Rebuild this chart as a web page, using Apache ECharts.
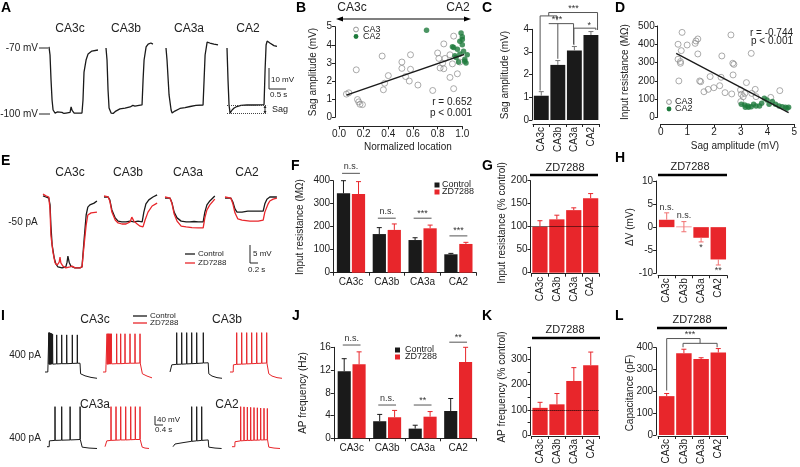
<!DOCTYPE html>
<html><head><meta charset="utf-8">
<script src="https://cdn.jsdelivr.net/npm/echarts@6/dist/echarts.min.js"></script>
<style>html,body{margin:0;padding:0;background:#fff}#c{width:800px;height:467px}</style>
</head><body><div id="c"></div>
<script>
// ---------------- DATA ----------------
const cats = ['CA3c','CA3b','CA3a','CA2'];

// A: hyperpolarizing traces [time s, mV]
const aCA3c = [[0,-69.5],[0.03,-73.2],[0.06,-84.7],[0.09,-93.8],[0.12,-98.4],[0.18,-99.8],[0.24,-99.3],[0.29,-100],[0.38,-99.5],[0.44,-100],[0.5,-99.8],[0.62,-99.5],[0.65,-97],[0.68,-98.6],[0.74,-99.8],[0.85,-99.8],[0.97,-99.8],[1.0,-93.8],[1.03,-81],[1.09,-75.5],[1.15,-72.7],[1.26,-71.4],[1.44,-70.9]];
const aCA3b = [[0,-70],[0.03,-75.5],[0.06,-89.2],[0.09,-97.5],[0.15,-99.8],[0.21,-100],[0.29,-98.9],[0.41,-97.9],[0.56,-97.5],[0.71,-97],[0.79,-96.3],[0.85,-96.6],[0.97,-96.3],[1.06,-96.1],[1.09,-84.7],[1.12,-75.5],[1.18,-69.5],[1.24,-68.2],[1.32,-67.7],[1.38,-68.2]];
const aCA3a = [[0,-70],[0.03,-75.5],[0.09,-91.5],[0.15,-98.4],[0.18,-99.8],[0.26,-98.9],[0.41,-97.7],[0.56,-97.3],[0.71,-96.8],[0.88,-96.3],[1.09,-96.1],[1.12,-84.7],[1.15,-73.2],[1.21,-67.3],[1.29,-67.7],[1.41,-68.2],[1.53,-68.6]];
const aCA2 = [[0,-70],[0.03,-84.7],[0.06,-96.1],[0.09,-99.8],[0.15,-98.4],[0.21,-97.5],[0.29,-96.8],[0.41,-96.3],[0.59,-96.1],[0.82,-96.1],[1.09,-95.9],[1.12,-80.1],[1.15,-68.6],[1.18,-66.8],[1.26,-67.7],[1.38,-68.9],[1.47,-69.3]];
const aSagLevels = [-96.0, -100.1];

// B: sag amplitude vs normalized location
const bCA3 = [[0.06,1.28],[0.08,1.35],[0.14,2.62],[0.15,0.98],[0.16,0.85],[0.17,0.72],[0.19,0.70],[0.35,3.38],[0.36,1.52],[0.37,1.88],[0.40,2.30],[0.51,3.05],[0.51,2.70],[0.54,2.25],[0.57,2.00],[0.58,3.45],[0.58,2.65],[0.64,1.78],[0.76,1.48],[0.80,3.55],[0.81,3.25],[0.82,2.72],[0.84,2.98],[0.85,2.68],[0.85,4.05],[0.86,3.25],[0.90,2.20],[0.92,2.95],[0.93,1.58],[0.93,4.48],[0.96,2.40],[0.98,3.05],[0.90,3.45]];
const bCA2 = [[0.71,4.80],[0.93,3.85],[0.94,3.40],[0.95,3.30],[0.96,3.75],[0.97,3.05],[0.98,4.20],[0.99,4.65],[1.00,4.45],[1.00,4.00],[1.01,3.65],[1.02,3.20],[1.03,3.00],[1.04,3.45],[0.98,3.50],[0.92,3.90],[1.00,4.30],[1.02,3.10]];
const bFit = [[0.06,1.23],[1.04,3.53]];

// C: sag amplitude by region
const cMean = [1.07,2.43,3.06,3.75];
const cSem  = [0.18,0.19,0.18,0.15];

// D: input resistance vs sag
const dCA3 = [[0.65,400],[0.80,465],[0.77,365],[0.65,318],[0.74,305],[0.74,296],[0.99,396],[1.32,418],[1.39,429],[1.29,405],[1.39,347],[0.68,199],[1.46,199],[1.50,195],[1.62,140],[1.78,153],[1.99,162],[1.85,223],[2.21,173],[2.26,219],[2.29,336],[2.41,135],[2.63,451],[2.70,296],[2.74,290],[2.71,232],[2.66,128],[2.99,150],[3.02,126],[3.09,113],[3.21,190],[3.39,350],[3.41,131],[3.54,153],[3.57,113],[4.12,109],[4.46,146],[3.15,131],[3.00,86]];
const dCA2 = [[3.02,71],[3.15,68],[3.27,62],[3.39,58],[3.48,71],[3.57,62],[3.70,62],[3.78,77],[3.88,104],[3.98,95],[4.06,71],[4.18,86],[4.30,71],[4.43,62],[4.55,58],[4.67,55],[4.73,49],[4.79,55],[3.17,55],[3.29,55]];
const dFit = [[0.58,350],[4.79,26]];

// E: -50 pA traces [time s, mV relative]
const eCA3cCtrl = [[0,0.3],[0.07,0],[0.14,-0.3],[0.17,-2.2],[0.19,-7.8],[0.22,-13.3],[0.27,-16.9],[0.31,-18.6],[0.36,-19.4],[0.46,-19.7],[0.55,-19.4],[0.58,-18.1],[0.60,-16.4],[0.63,-18.1],[0.67,-19.2],[0.77,-19.7],[0.89,-19.7],[0.94,-19.4],[0.99,-11.9],[1.04,-5],[1.08,-2.8],[1.13,-2.2],[1.23,-1.7],[1.30,-1.1]];
const eCA3cZD = [[0,0.8],[0.07,0.3],[0.14,0],[0.17,-3.6],[0.19,-10.6],[0.24,-15.3],[0.29,-18.3],[0.34,-18.9],[0.39,-18.1],[0.41,-16.7],[0.43,-18.3],[0.48,-19.2],[0.55,-19.7],[0.65,-19.4],[0.70,-19.2],[0.77,-19.7],[0.89,-19.7],[0.94,-19.4],[0.99,-13.3],[1.04,-7.8],[1.08,-5],[1.16,-4.4],[1.30,-4.2]];
const eCA3bCtrl = [[0,0],[0.10,0],[0.14,-0.8],[0.19,-3.6],[0.27,-5.8],[0.34,-6.7],[0.43,-6.9],[0.53,-6.9],[0.63,-6.7],[0.72,-6.9],[0.82,-6.7],[0.92,-6.9],[0.96,-4.2],[1.01,-1.9],[1.08,-0.8],[1.18,0],[1.28,0.6]];
const eCA3bZD = [[0,0.3],[0.10,0],[0.14,-1.1],[0.19,-4.2],[0.27,-6.4],[0.34,-7.2],[0.43,-7.5],[0.53,-7.5],[0.63,-6.9],[0.67,-5.6],[0.72,-6.7],[0.80,-7.5],[0.87,-8.1],[0.94,-8.3],[0.99,-6.4],[1.06,-4.2],[1.16,-2.5],[1.28,-1.7]];
const eCA3aCtrl = [[0,-0.3],[0.12,-0.3],[0.17,-1.7],[0.22,-4.2],[0.29,-5.8],[0.39,-6.7],[0.51,-6.9],[0.60,-6.9],[0.70,-6.8],[0.80,-6.9],[0.92,-6.9],[0.96,-4.2],[1.01,-2.2],[1.08,-1.1],[1.20,0.3]];
const eCA3aZD = [[0,0],[0.12,-0.3],[0.17,-1.9],[0.22,-4.7],[0.29,-6.7],[0.39,-8.1],[0.51,-8.3],[0.65,-8.5],[0.80,-8.6],[0.92,-8.6],[0.96,-5.8],[1.01,-3.6],[1.08,-2.2],[1.20,-0.6]];
const eCA2Ctrl = [[0,-0.3],[0.14,-0.3],[0.19,-1.4],[0.24,-3.3],[0.29,-4.2],[0.41,-4.2],[0.55,-3.9],[0.70,-3.9],[0.82,-3.9],[0.92,-3.9],[0.96,-1.9],[1.01,-0.6],[1.08,0],[1.25,0]];
const eCA2ZD = [[0,0],[0.14,-0.3],[0.19,-1.9],[0.24,-4.4],[0.31,-6.1],[0.41,-6.4],[0.60,-6.7],[0.80,-6.7],[0.92,-6.4],[0.96,-4.2],[1.04,-1.9],[1.08,-1.1],[1.16,-0.6],[1.25,-0.3]];

// F: input resistance (MOhm)
const fCtrl = [345,168,142,80];
const fCtrlSem = [55,28,10,4];
const fZD = [342,186,193,125];
const fZDSem = [54,26,14,7];

// G: input resistance (% control)
const gMean = [100,116,136,162];
const gSem = [13,9,5,10];

// H: delta V (mV)
const hMean = [1.6,0.1,-2.3,-7.0];
const hSem = [1.5,1.1,0.9,1.2];

// I: 400 pA firing traces [time s, mV]
const iCA3cCtrl = [[0,-70],[0.14,-70],[0.15,-38],
 [0.185,-36],[0.19,105],[0.2,-36],[0.215,-36],[0.22,105],[0.23,-36],[0.245,-36],[0.25,104],[0.26,-36],
 [0.275,-36],[0.28,103],[0.29,-36],[0.305,-35],[0.31,102],[0.32,-35],[0.34,-35],[0.345,100],[0.355,-35],
 [0.375,-35],[0.38,98],[0.39,-35],[0.58,-34],[0.585,95],[0.595,-34],[0.83,-33],[0.835,95],[0.845,-33],
 [1.08,-33],[1.085,95],[1.095,-33],[1.36,-32],[1.365,95],[1.375,-32],[1.61,-31],[1.615,95],[1.625,-31],
 [1.75,-31],[1.78,-78],[2.0,-87],[2.3,-94],[2.6,-98]];
const iCA3cZD = [[0,-70],[0.14,-70],[0.15,-38],
 [0.195,-36],[0.2,100],[0.21,-36],[0.235,-36],[0.24,100],[0.25,-36],[0.275,-35],[0.28,100],[0.29,-35],
 [0.315,-35],[0.32,100],[0.33,-35],[0.365,-35],[0.37,100],[0.38,-35],[0.415,-34],[0.42,100],[0.43,-34],
 [0.678,-33],[0.683,100],[0.693,-33],[0.878,-33],[0.883,100],[0.893,-33],[1.095,-32],[1.1,100],[1.11,-32],
 [1.345,-31],[1.35,100],[1.36,-31],[1.595,-31],[1.6,100],[1.61,-31],[1.845,-30],[1.85,100],[1.86,-30],
 [1.94,-30],[1.97,-78],[2.2,-88],[2.45,-96]];
const iCA3bCtrl = [[0,-70],[0.08,-70],[0.09,-38],
 [0.33,-36],[0.335,105],[0.345,-36],[0.58,-35],[0.585,105],[0.595,-35],[0.83,-34],[0.835,105],[0.845,-34],
 [1.08,-33],[1.085,105],[1.095,-33],[1.33,-32],[1.335,105],[1.345,-32],[1.66,-30],[1.665,105],[1.675,-30],
 [1.91,-29],[1.94,-78],[2.1,-88],[2.35,-95],[2.6,-98]];
const iCA3bZD = [[0,-70],[0.16,-70],[0.17,-38],
 [0.33,-36],[0.335,105],[0.345,-36],[0.58,-35],[0.585,105],[0.595,-35],[0.83,-34],[0.835,105],[0.845,-34],
 [1.08,-33],[1.085,105],[1.095,-33],[1.33,-32],[1.335,105],[1.345,-32],[1.58,-31],[1.585,105],[1.595,-31],
 [1.83,-30],[1.835,105],[1.845,-30],[1.91,-30],[1.94,-78],[2.1,-88],[2.35,-95],[2.6,-98]];
const iCA3aCtrl = [[0,-70],[0.11,-70],[0.12,-44],
 [0.395,-42],[0.4,108],[0.41,-42],[0.73,-41],[0.735,108],[0.745,-41],[1.15,-40],[1.155,108],[1.165,-40],
 [1.65,-38],[1.655,108],[1.665,-38],[1.73,-38],[1.76,-72],[2.1,-76],[2.5,-78]];
const iCA3aZD = [[0,-70],[0.08,-70],[0.09,-44],
 [0.295,-42],[0.3,108],[0.31,-42],[0.545,-41],[0.55,108],[0.56,-41],[0.78,-40],[0.785,108],[0.795,-40],
 [1.03,-40],[1.035,108],[1.045,-40],[1.28,-39],[1.285,108],[1.295,-39],[1.51,-38],[1.515,108],[1.525,-38],
 [1.745,-38],[1.75,108],[1.76,-38],[1.83,-38],[1.86,-72],[2.0,-76],[2.2,-78]];
const iCA2Ctrl = [[0,-70],[0.09,-70],[0.1,-58],[0.5,-52],
 [0.93,-46],[0.935,108],[0.945,-46],[1.18,-44],[1.185,108],[1.195,-44],[1.43,-42],[1.435,108],[1.445,-42],
 [1.76,-40],[1.79,-72],[2.1,-76],[2.43,-78]];
const iCA2ZD = [[0,-70],[0.14,-70],[0.15,-48],
 [0.428,-44],[0.433,108],[0.443,-44],[0.595,-43],[0.6,107],[0.61,-43],[0.762,-42],[0.767,106],[0.777,-42],
 [0.928,-42],[0.933,105],[0.943,-42],[1.095,-41],[1.1,104],[1.11,-41],[1.262,-41],[1.267,103],[1.277,-41],
 [1.428,-40],[1.433,102],[1.443,-40],[1.595,-40],[1.6,101],[1.61,-40],[1.762,-39],[1.767,100],[1.777,-39],
 [1.81,-39],[1.84,-72],[2.1,-76],[2.4,-78]];

// J: AP frequency (Hz)
const jCtrl = [11.8,3.0,1.7,4.8];
const jCtrlSem = [2.2,1.2,0.6,2.2];
const jZD = [13.0,3.7,3.8,13.4];
const jZDSem = [2.2,1.2,0.9,2.6];

// K: AP frequency (% control)
const kMean = [108,122,215,278];
const kSem = [22,43,53,52];

// L: capacitance (pF)
const lMean = [178,375,348,378];
const lSem = [12,18,6,18];

// ---------------- CHART ----------------
const FONT = 'Liberation Sans, Arial, sans-serif';
const BLK = '#1a1a1a', RED = '#e8262b', GRN = '#1e7a3c', GRY = '#8a8a8a', TXT = '#222';
const grids = [], xAxes = [], yAxes = [], series = [], gfx = [];

function addGrid(left, top, width, height){ grids.push({left, top, width, height}); return grids.length - 1; }
function hidden(gi, xmin, xmax, ymin, ymax){
  xAxes.push({gridIndex: gi, type: 'value', min: xmin, max: xmax, show: false});
  yAxes.push({gridIndex: gi, type: 'value', min: ymin, max: ymax, show: false});
}
function vAxis(gi, min, max, interval, extra){
  return Object.assign({gridIndex: gi, type: 'value', min, max, interval,
    splitLine: {show: false},
    axisLine: {show: true, onZero: false, lineStyle: {color: TXT, width: 1}},
    axisTick: {show: true, length: 3, lineStyle: {color: TXT}},
    axisLabel: {fontSize: 10, color: TXT, margin: 3, fontFamily: FONT}}, extra || {});
}
function cAxis(gi, rotate, extra){
  return Object.assign({gridIndex: gi, type: 'category', data: cats,
    axisLine: {show: true, onZero: false, lineStyle: {color: TXT, width: 1}},
    axisTick: {show: true, length: 3, alignWithLabel: false, lineStyle: {color: TXT}},
    axisLabel: {fontSize: 10, color: TXT, rotate: rotate, margin: 3, fontFamily: FONT}}, extra || {});
}
function trace(gi, data, color, w){
  series.push({type: 'line', xAxisIndex: gi, yAxisIndex: gi, data, showSymbol: false, symbol: 'none',
    lineStyle: {color, width: w || 1.2}, clip: false, animation: false, z: 3});
}
function errBars(gi, means, sems, color, off, both){
  series.push({type: 'custom', xAxisIndex: gi, yAxisIndex: gi, silent: true, z: 5,
    data: means.map((m, i) => [i, m, sems[i]]),
    renderItem(params, api){
      const i = api.value(0), m = api.value(1), s = api.value(2);
      const w = api.size([1, 0])[0];
      const dirs = (both && both[i]) ? [1, -1] : [m < 0 ? -1 : 1];
      const p1 = api.coord([i, m]);
      const x = p1[0] + (off || 0) * w;
      const ch = [];
      dirs.forEach(d => {
        const p2 = api.coord([i, m + d * s]);
        ch.push({type: 'line', shape: {x1: x, y1: p1[1], x2: x, y2: p2[1]}, style: {stroke: color, lineWidth: 1}});
        ch.push({type: 'line', shape: {x1: x - 2.5, y1: p2[1], x2: x + 2.5, y2: p2[1]}, style: {stroke: color, lineWidth: 1}});
      });
      return {type: 'group', children: ch};
    }});
}
function annot(gi, items){
  series.push({type: 'custom', xAxisIndex: gi, yAxisIndex: gi, silent: true, z: 6,
    data: items.map((_, i) => [i % 4, 0]),
    renderItem(params, api){
      const it = items[params.dataIndex];
      const w = api.size([1, 0])[0];
      const P = (c, v) => { const b = api.coord([0, v]); return [b[0] + c * w, b[1]]; };
      const ch = [];
      (it.lines || []).forEach(pl => ch.push({type: 'polyline', shape: {points: pl.map(p => P(p[0], p[1]))}, style: {stroke: it.color || '#555', lineWidth: 1, fill: null}}));
      if (it.text){ const p = P(it.at[0], it.at[1]);
        ch.push({type: 'text', x: p[0], y: p[1] + (it.dy || 0), style: {text: it.text, fill: '#333', font: '9px ' + FONT, textAlign: 'center', textVerticalAlign: 'middle', align: 'center', verticalAlign: 'middle'}}); }
      return {type: 'group', children: ch};
    }});
}
function bars(gi, vals, color, extra){
  series.push(Object.assign({type: 'bar', xAxisIndex: gi, yAxisIndex: gi, data: vals, itemStyle: {color}, barCategoryGap: '10%', animation: false, z: 2}, extra || {}));
}
// graphic helpers
function T(x, y, text, size, align, extra){
  gfx.push(Object.assign({type: 'text', x, y, silent: true, style: {text, font: (size || 10) + 'px ' + FONT, fill: TXT,
    textAlign: align || 'center', textVerticalAlign: 'middle', align: align || 'center', verticalAlign: 'middle'}}, extra || {}));
}
function TB(x, y, text){ gfx.push({type: 'text', x, y, silent: true, style: {text, font: 'bold 14px ' + FONT, fill: '#000', textAlign: 'left', textVerticalAlign: 'middle', align: 'left', verticalAlign: 'middle'}}); }
function TR(x, y, text, size){ gfx.push({type: 'text', x, y, rotation: Math.PI / 2, silent: true, style: {text, font: (size || 10) + 'px ' + FONT, fill: TXT, textAlign: 'center', textVerticalAlign: 'middle', align: 'center', verticalAlign: 'middle'}}); }
function Ln(x1, y1, x2, y2, color, w, dash){ gfx.push({type: 'line', silent: true, shape: {x1, y1, x2, y2}, style: {stroke: color || TXT, lineWidth: w || 1, lineDash: dash || null}}); }
function Poly(points, fill){ gfx.push({type: 'polygon', silent: true, shape: {points}, style: {fill: fill || TXT}}); }

// ----- Panel A -----
const aLeft = [49, 106, 166, 227];
[aCA3c, aCA3b, aCA3a, aCA2].forEach((d, k) => {
  const gi = addGrid(aLeft[k], 26.2, 54.4, 98.2); hidden(gi, 0, 1.6, -105, -60); trace(gi, d, BLK, 1.3);
  if (k === 3){
    series.push({type: 'line', xAxisIndex: gi, yAxisIndex: gi, data: [], markLine: {silent: true, symbol: 'none', label: {show: false},
      lineStyle: {type: 'dotted', color: '#444', width: 1},
      data: aSagLevels.map(v => [{coord: [0, v]}, {coord: [1.18, v]}])}});
  }
});
['CA3c', 'CA3b', 'CA3a', 'CA2'].forEach((t, k) => T([70, 126, 189, 248][k], 29, t, 12));
T(38, 48, '-70 mV', 10, 'right'); Ln(39, 48, 48, 48);
T(38, 114, '-100 mV', 10, 'right'); Ln(39, 114, 50, 114);
Ln(269, 68, 269, 89); Ln(269, 89, 286, 89);
T(271, 80, '10 mV', 8, 'left'); T(270, 95, '0.5 s', 8, 'left');
Ln(265, 106, 265, 113); Poly([[263.5, 108], [266.5, 108], [265, 105.5]]); Poly([[263.5, 111], [266.5, 111], [265, 113.5]]);
T(272, 109.5, 'Sag', 9, 'left');
TB(1, 8, 'A');

// ----- Panel B -----
const gB = addGrid(339, 26.7, 123.3, 90.6);
xAxes.push(vAxis(gB, 0, 1, 0.2, {offset: 9, axisLabel: {fontSize: 10, color: TXT, margin: 3, fontFamily: FONT, formatter: v => v.toFixed(1)}}));
yAxes.push(vAxis(gB, 0, 5, 1, {offset: 4}));
series.push({type: 'scatter', xAxisIndex: gB, yAxisIndex: gB, data: bCA3, symbolSize: 6, clip: false,
  itemStyle: {color: 'rgba(255,255,255,0)', borderColor: GRY, borderWidth: 0.9}, z: 3});
series.push({type: 'scatter', xAxisIndex: gB, yAxisIndex: gB, data: bCA2, symbolSize: 5.5, clip: false, itemStyle: {color: GRN}, z: 4});
series.push({type: 'line', xAxisIndex: gB, yAxisIndex: gB, data: bFit, showSymbol: false, symbol: 'none', lineStyle: {color: BLK, width: 1.3}, z: 5, clip: false});
TB(296, 8, 'B');
T(352, 8, 'CA3c', 12); T(458, 8, 'CA2', 12);
Ln(340, 19, 467, 19, '#000', 1.2); Poly([[336, 19], [343, 16.5], [343, 21.5]], '#000'); Poly([[471, 19], [464, 16.5], [464, 21.5]], '#000');
TR(313, 72, 'Sag amplitude (mV)');
T(408, 147, 'Normalized location', 10);
T(472, 102, 'r = 0.652', 10, 'right'); T(472, 113, 'p < 0.001', 10, 'right');
gfx.push({type: 'circle', shape: {cx: 356, cy: 29.5, r: 2.4}, style: {fill: 'none', stroke: GRY, lineWidth: 0.9}});
gfx.push({type: 'circle', shape: {cx: 356, cy: 36.5, r: 2.4}, style: {fill: GRN}});
T(363, 29.5, 'CA3', 9, 'left'); T(363, 36.5, 'CA2', 9, 'left');

// ----- Panel C -----
const gC = addGrid(533, 29.3, 66.2, 90.7);
xAxes.push(cAxis(gC, 90, {offset: 4}));
yAxes.push(vAxis(gC, 0, 4, 1, {offset: 1}));
bars(gC, cMean, BLK);
errBars(gC, cMean, cSem, '#777', 0);
annot(gC, [
  {lines: [[[-0.07, 1.3], [-0.07, 4.59], [0.95, 4.59], [0.95, 4.4]], [[0.45, 4.59], [0.45, 4.74], [3.4, 4.74], [3.4, 3.97]]], text: '***', at: [1.95, 4.74], dy: -4},
  {lines: [[[0.45, 4.25], [1.95, 4.25], [1.95, 3.35]], [[1.0, 4.25], [1.0, 2.7]]], text: '***', at: [0.95, 4.25], dy: -4},
  {lines: [[[1.97, 3.3], [1.97, 4.05], [3.3, 4.05], [3.3, 3.97]]], text: '*', at: [2.9, 4.05], dy: -3}
]);
TB(482, 8, 'C');
TR(505, 75, 'Sag amplitude (mV)');

// ----- Panel D -----
const gD = addGrid(660.7, 26, 136.6, 91.3);
xAxes.push(vAxis(gD, 0, 5, 1, {offset: 6.7}));
yAxes.push(vAxis(gD, 0, 500, 100, {offset: 3}));
series.push({type: 'scatter', xAxisIndex: gD, yAxisIndex: gD, data: dCA3, symbolSize: 6, clip: false,
  itemStyle: {color: 'rgba(255,255,255,0)', borderColor: GRY, borderWidth: 0.9}, z: 3});
series.push({type: 'scatter', xAxisIndex: gD, yAxisIndex: gD, data: dCA2, symbolSize: 5.5, clip: false, itemStyle: {color: GRN}, z: 4});
series.push({type: 'line', xAxisIndex: gD, yAxisIndex: gD, data: dFit, showSymbol: false, symbol: 'none', lineStyle: {color: BLK, width: 1.3}, z: 5, clip: false});
TB(615, 8, 'D');
TR(625, 72, 'Input resistance (MΩ)');
T(735, 146, 'Sag amplitude (mV)', 10);
T(793, 33, 'r = -0.744', 10, 'right'); T(793, 41, 'p < 0.001', 10, 'right');
gfx.push({type: 'circle', shape: {cx: 669, cy: 102, r: 2.4}, style: {fill: 'none', stroke: GRY, lineWidth: 0.9}});
gfx.push({type: 'circle', shape: {cx: 669, cy: 109, r: 2.4}, style: {fill: GRN}});
T(675, 102, 'CA3', 9, 'left'); T(675, 109, 'CA2', 9, 'left');

// ----- Panel E -----
const eLeft = [43, 104, 165, 225];
[[eCA3cCtrl, eCA3cZD], [eCA3bCtrl, eCA3bZD], [eCA3aCtrl, eCA3aZD], [eCA2Ctrl, eCA2ZD]].forEach((pair, k) => {
  const gi = addGrid(eLeft[k], 189.8, 58.1, 86.4); hidden(gi, 0, 1.4, -22, 2);
  trace(gi, pair[0], BLK, 1.3); trace(gi, pair[1], RED, 1.3);
});
TB(1, 161, 'E');
['CA3c', 'CA3b', 'CA3a', 'CA2'].forEach((t, k) => T([70, 128, 188, 247][k], 173, t, 12));
T(23, 222, '-50 pA', 10);
Ln(185, 254, 195, 254, BLK, 1.3); T(198, 254, 'Control', 8, 'left');
Ln(185, 263, 195, 263, RED, 1.3); T(198, 263, 'ZD7288', 8, 'left');
Ln(250, 245, 250, 263); Ln(250, 263, 258, 263);
T(253, 254, '5 mV', 8, 'left'); T(248, 270, '0.2 s', 8, 'left');

// ----- Panel F -----
const gF = addGrid(333.1, 180.7, 143.2, 92);
xAxes.push(cAxis(gF, 0, {axisLabel: {fontSize: 10, color: TXT, margin: 5, fontFamily: FONT}}));
yAxes.push(vAxis(gF, 0, 400, 100));
bars(gF, fCtrl, BLK, {barWidth: '37%', barGap: '13%'});
bars(gF, fZD, RED, {barWidth: '37%', barGap: '13%'});
errBars(gF, fCtrl, fCtrlSem, BLK, -0.21);
errBars(gF, fZD, fZDSem, RED, 0.21);
annot(gF, [
  {lines: [[[-0.25, 432], [0.25, 432]]], text: 'n.s.', at: [0, 432], dy: -7},
  {lines: [[[0.75, 237], [1.25, 237]]], text: 'n.s.', at: [1, 237], dy: -7},
  {lines: [[[1.75, 237], [2.25, 237]]], text: '***', at: [2, 237], dy: -5},
  {lines: [[[2.75, 160], [3.25, 160]]], text: '***', at: [3, 160], dy: -5}
]);
TB(291, 166, 'F');
TR(300, 227, 'Input resistance (MΩ)');
gfx.push({type: 'rect', shape: {x: 434.5, y: 182.5, width: 5, height: 5}, style: {fill: BLK}});
gfx.push({type: 'rect', shape: {x: 434.5, y: 189.5, width: 5, height: 5}, style: {fill: RED}});
T(442, 185, 'Control', 9, 'left'); T(442, 192, 'ZD7288', 9, 'left');

// ----- Panel G -----
const gG = addGrid(531.5, 180.7, 67.6, 92);
xAxes.push(cAxis(gG, 90, {offset: 1}));
yAxes.push(vAxis(gG, 0, 200, 50, {offset: 1}));
bars(gG, gMean, RED, {markLine: {silent: true, symbol: 'none', label: {show: false}, lineStyle: {type: 'dotted', color: '#000', width: 1}, data: [{yAxis: 100}]}});
errBars(gG, gMean, gSem, RED, 0);
TB(482, 166, 'G');
T(565, 168, 'ZD7288', 11); Ln(530, 175, 598, 175, '#000', 2.5);
TR(502, 223, 'Input resistance (% control)');

// ----- Panel H -----
const gH = addGrid(658.1, 181, 68.8, 92.3);
xAxes.push(cAxis(gH, 90, {offset: 2}));
yAxes.push(vAxis(gH, -10, 10, 5, {offset: 2}));
bars(gH, hMean, RED);
errBars(gH, hMean, hSem, '#f07070', 0, [false, true, false, false]);
annot(gH, [
  {text: 'n.s.', at: [0, 4.3]}, {text: 'n.s.', at: [1, 2.5]}, {text: '*', at: [2, -4.4]}, {text: '**', at: [3, -9.4]}
]);
TB(615, 158, 'H');
T(690, 167, 'ZD7288', 11); Ln(658, 175, 727, 175, '#000', 2.5);
TR(630, 227, 'ΔV (mV)');

// ----- Panel I -----
const iLeft = [45, 103, 170, 230, 47, 105, 173, 232];
const iTop = [329.25, 329.25, 329.25, 329.25, 403.95, 403.95, 403.95, 403.95];
[iCA3cCtrl, iCA3cZD, iCA3bCtrl, iCA3bZD, iCA3aCtrl, iCA3aZD, iCA2Ctrl, iCA2ZD].forEach((d, k) => {
  const gi = addGrid(iLeft[k], iTop[k], 56, 51.75); hidden(gi, 0, 2.8, -110, 120);
  trace(gi, d, k % 2 ? RED : BLK, 1);
});
TB(1, 316, 'I');
T(95, 320, 'CA3c', 12); T(227, 320, 'CA3b', 12); T(95, 405, 'CA3a', 12); T(227, 405, 'CA2', 12);
T(25, 355, '400 pA', 10); T(25, 438, '400 pA', 10);
Ln(133, 316, 147, 316, BLK, 1.3); T(150, 316, 'Control', 8, 'left');
Ln(133, 323, 147, 323, RED, 1.3); T(150, 323, 'ZD7288', 8, 'left');
Ln(155, 416, 155, 425); Ln(155, 425, 163, 425);
T(157, 420, '40 mV', 8, 'left'); T(155, 430, '0.4 s', 8, 'left');

// ----- Panel J -----
const gJ = addGrid(333.9, 347.3, 142, 91);
xAxes.push(cAxis(gJ, 0, {axisLabel: {fontSize: 10, color: TXT, margin: 5, fontFamily: FONT}}));
yAxes.push(vAxis(gJ, 0, 16, 4));
bars(gJ, jCtrl, BLK, {barWidth: '37%', barGap: '13%'});
bars(gJ, jZD, RED, {barWidth: '37%', barGap: '13%'});
errBars(gJ, jCtrl, jCtrlSem, BLK, -0.21);
errBars(gJ, jZD, jZDSem, RED, 0.21);
annot(gJ, [
  {lines: [[[-0.25, 16.4], [0.25, 16.4]]], text: 'n.s.', at: [0, 16.4], dy: -7},
  {lines: [[[0.75, 5.85], [1.25, 5.85]]], text: 'n.s.', at: [1, 5.85], dy: -7},
  {lines: [[[1.75, 5.85], [2.25, 5.85]]], text: '**', at: [2, 5.85], dy: -5},
  {lines: [[[2.75, 16.9], [3.25, 16.9]]], text: '**', at: [3, 16.9], dy: -5}
]);
TB(292, 316, 'J');
TR(303, 393, 'AP frequency (Hz)');
gfx.push({type: 'rect', shape: {x: 395, y: 347.5, width: 5, height: 5}, style: {fill: BLK}});
gfx.push({type: 'rect', shape: {x: 395, y: 354.5, width: 5, height: 5}, style: {fill: RED}});
T(405, 350, 'Control', 9, 'left'); T(405, 357, 'ZD7288', 9, 'left');

// ----- Panel K -----
const gK = addGrid(531.6, 347.05, 67.6, 90.65);
xAxes.push(cAxis(gK, 90, {offset: 1}));
yAxes.push(vAxis(gK, 0, 350, 50, {offset: 1, axisLabel: {fontSize: 10, color: TXT, margin: 3, fontFamily: FONT, formatter: v => (v % 100 === 0 ? String(v) : '')}}));
bars(gK, kMean, RED, {markLine: {silent: true, symbol: 'none', label: {show: false}, lineStyle: {type: 'dotted', color: '#000', width: 1}, data: [{yAxis: 100}]}});
errBars(gK, kMean, kSem, RED, 0);
TB(482, 316, 'K');
T(565, 330, 'ZD7288', 11); Ln(532, 338, 600, 338, '#000', 2.5);
TR(502, 387, 'AP frequency (% control)');

// ----- Panel L -----
const gL = addGrid(658.1, 347.7, 68.8, 90);
xAxes.push(cAxis(gL, 90, {offset: 1}));
yAxes.push(vAxis(gL, 0, 400, 100, {offset: 2}));
bars(gL, lMean, RED);
errBars(gL, lMean, lSem, RED, 0);
annot(gL, [
  {lines: [[[0, 204], [0, 442], [1.94, 442], [1.94, 420]], [[0.95, 402], [0.95, 420], [2.93, 420], [2.93, 402]]], text: '***', at: [1.36, 442], dy: -4}
]);
TB(615, 316, 'L');
T(692, 320, 'ZD7288', 11); Ln(657, 328, 727, 328, '#000', 2.5);
TR(630, 393, 'Capacitance (pF)');

const chart = echarts.init(document.getElementById('c'), null, {renderer: 'canvas', width: 800, height: 467});
chart.setOption({
  backgroundColor: '#fff', animation: false,
  textStyle: {fontFamily: FONT},
  grid: grids, xAxis: xAxes, yAxis: yAxes, series, graphic: {elements: gfx}
});
</script></body></html>
